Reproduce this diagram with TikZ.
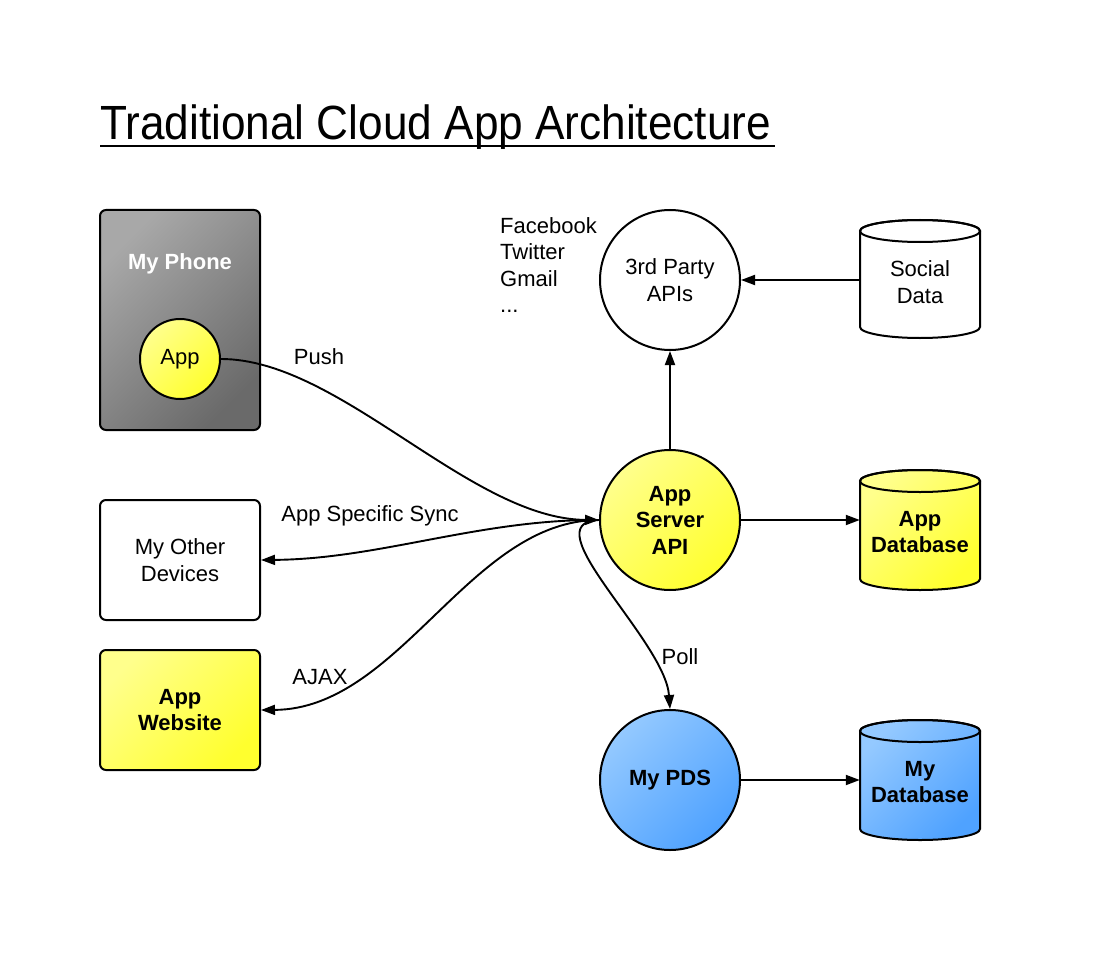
\documentclass[tikz,border=0pt]{standalone}
\usepackage{fontspec}
\setmainfont{Liberation Sans}
\newfontfamily\titlefont[FakeStretch=0.92]{Liberation Sans}
\usetikzlibrary{arrows.meta}
\definecolor{gray1}{HTML}{A8A8A8}
\definecolor{gray2}{HTML}{6A6A6A}
\definecolor{yel1}{HTML}{FFFF8C}
\definecolor{yel2}{HTML}{FFFF2E}
\definecolor{blu1}{HTML}{94C9FF}
\definecolor{blu2}{HTML}{4FA2FF}
\tikzset{
  base/.style={font=\fontsize{22}{26.5}\selectfont, align=center},
  boldtxt/.style={font=\bfseries\fontsize{22}{26.5}\selectfont, align=center},
  boxnode/.style={draw, line width=2pt, rounded corners=6pt, minimum width=160pt, minimum height=120pt, inner sep=0pt},
  circnode/.style={circle, draw, line width=2pt, minimum size=140pt, inner sep=0pt},
  yelfill/.style={top color=yel1, bottom color=yel2, shading angle=45},
  blufill/.style={top color=blu1, bottom color=blu2, shading angle=45},
  grayfill/.style={top color=gray1, bottom color=gray2, shading angle=45},
  conn/.style={line width=1.9pt, -{Triangle[length=14pt,width=10pt]}},
  cylshape/.style={draw, line width=2pt},
  cyltext/.style={minimum width=120pt, inner sep=0pt},
}
\newcommand{\mycyl}[4]{% cx, top cap centre y, bottom cap centre y, fill style
  \shade[#4] (#1-60,#2) -- (#1-60,#3) arc[start angle=180, end angle=0, x radius=60, y radius=11]
     -- (#1+60,#2) arc[start angle=0, end angle=-180, x radius=60, y radius=11] -- cycle;
  \draw[cylshape] (#1-60,#2) -- (#1-60,#3) arc[start angle=180, end angle=0, x radius=60, y radius=11]
     -- (#1+60,#2) arc[start angle=0, end angle=-180, x radius=60, y radius=11] -- cycle;
  \draw[line width=2pt] (#1,#2) ellipse[x radius=60, y radius=11];
}
\begin{document}
\begin{tikzpicture}[x=1pt,y=-1pt]
\useasboundingbox (0,0) rectangle (1100,960);
\fill[white] (0,0) rectangle (1100,960);

% title
\node[anchor=base west, inner sep=0pt, font=\titlefont\fontsize{48}{48}\selectfont] (title) at (100,140) {Traditional Cloud App Architecture};
\draw[line width=2.5pt] (title.base west) ++(0,6) -- ++(675,0);

% phone
\node[boxnode, grayfill, minimum height=220pt] (phone) at (180,320) {};
\node[boldtxt, text=white] (phonelbl) at (180,264) {My Phone};
\node[circnode, minimum size=80pt, yelfill, base] (app) at (180,359) {App};

% left boxes
\node[boxnode, base, fill=white] (od) at (180,560) {My Other\\Devices};
\node[boxnode, boldtxt, yelfill] (aw) at (180,710) {App\\Website};

% circles
\node[circnode, base, fill=white] (tp) at (670,280) {3rd Party\\APIs};
\node[circnode, boldtxt, yelfill] (as) at (670,520) {App\\Server\\API};
\node[circnode, boldtxt, blufill] (pds) at (670,780) {My PDS};

% cylinders
\mycyl{920}{231}{327}{top color=white, bottom color=white}
\node[cyltext, base] (sd) at (920,282) {Social\\Data};
\mycyl{920}{481}{579}{yelfill}
\node[cyltext, boldtxt] (adb) at (920,532) {App\\Database};
\mycyl{920}{731}{829}{blufill}
\node[cyltext, boldtxt] (mdb) at (920,782) {My\\Database};

% social list
\node[base, align=left, anchor=west, inner sep=0pt] (social) at (500,265) {Facebook\\Twitter\\Gmail\\...};

% connectors
\draw[conn] (sd.west |- tp.east) -- (tp.east);
\draw[conn] (as.north) -- (tp.south);
\draw[conn] (as.east) -- (as.east -| adb.west);
\draw[conn] (pds.east) -- (pds.east -| mdb.west);
\draw[conn] (app.east) .. controls (340,359) and (470,519) .. (as.west);
\draw[conn] (as.west) .. controls (480,519) and (380,559) .. (od.east);
\draw[conn] (as.west) .. controls (470,520) and (400,709) .. (aw.east);
\draw[conn] (as.west) .. controls (530,522) and (665,640) .. (pds.north);

% labels
\node[base] (lpush) at (319,357) {Push};
\node[base] (lsync) at (370,516) {App Specific Sync};
\node[base] (lajax) at (320,677) {AJAX};
\node[base] (lpoll) at (680,657) {Poll};
\end{tikzpicture}
\end{document}
